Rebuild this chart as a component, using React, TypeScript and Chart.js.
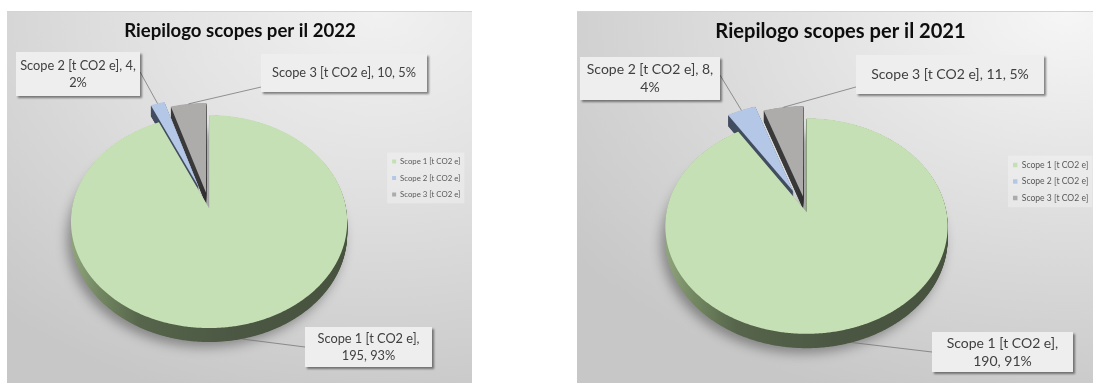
import React, { useEffect, useRef } from 'react';
import { Chart, registerables } from 'chart.js';

Chart.register(...registerables);

// ---------- data ----------
const categories = ['Scope 1 [t CO2 e]', 'Scope 2 [t CO2 e]', 'Scope 3 [t CO2 e]'];
const values2022 = [195, 4, 10];
const values2021 = [190, 8, 11];
const title2022 = 'Riepilogo scopes per il 2022';
const title2021 = 'Riepilogo scopes per il 2021';

// ---------- styles ----------
const FONT = 'Lato, "Open Sans", sans-serif';
const topColors = ['#c5e0b4', '#b4c7e7', '#aeabab'];
const sideColors = ['', '#434d60', '#3b3b3b'];
const greenSideStops: [number, string][] = [
  [0, '#8fa47c'],
  [0.1, '#728761'],
  [0.25, '#56654b'],
  [0.6, '#4b5743'],
  [1, '#47523f'],
];

type Box = { x: number; y: number; w: number; h: number; side: 'left' | 'right'; fy: number; split: number };
type PanelCfg = {
  left: number; top: number; width: number; height: number; canvasWidth: number;
  title: string; values: number[];
  titleSize: number; titlePad: { top: number; bottom: number }; titleX: number;
  labelSize: number; lineH: number;
  legendSize: number; legendPad: number; legendBox: number;
  padding: { left: number; right: number; top: number; bottom: number };
  tilt: number; persp: number; depth: number; explode: number[];
  boxes: Box[]; bg: string;
};

const leftPanel: PanelCfg = {
  left: 7, top: 11, width: 465, height: 372, canvasWidth: 465,
  title: title2022, values: values2022,
  titleSize: 18.6, titlePad: { top: 8.8, bottom: 28.9 }, titleX: 233,
  labelSize: 12.8, lineH: 17,
  legendSize: 7.8, legendPad: 8.7, legendBox: 4,
  padding: { left: 27.7, right: 1.6, top: 0, bottom: 38 },
  tilt: 0.765, persp: 0.127, depth: 12.2, explode: [0, 0.22, 0.15],
  boxes: [
    { x: 298, y: 316, w: 127, h: 40, side: 'left', fy: 0.5, split: 1 },
    { x: 9, y: 41, w: 124, h: 44, side: 'right', fy: 0.45, split: 2 },
    { x: 254, y: 43, w: 166, h: 38, side: 'left', fy: 0.87, split: 3 },
  ],
  bg: 'radial-gradient(ellipse 120% 110% at 80% 0%, #f1f1f1 0%, #e2e2e2 40%, #c7c7c7 100%)',
};

const rightPanel: PanelCfg = {
  left: 577, top: 11, width: 516, height: 372, canvasWidth: 530,
  title: title2021, values: values2021,
  titleSize: 20.1, titlePad: { top: 8.9, bottom: 28 }, titleX: 263.5,
  labelSize: 14, lineH: 18,
  legendSize: 8.6, legendPad: 7.9, legendBox: 4.5,
  padding: { left: 30.9, right: 8.7, top: 0, bottom: 31 },
  tilt: 0.757, persp: 0.13, depth: 12.5, explode: [0, 0.22, 0.15],
  boxes: [
    { x: 355, y: 321, w: 141, h: 40, side: 'left', fy: 0.5, split: 1 },
    { x: 3, y: 46, w: 140, h: 43, side: 'right', fy: 0.42, split: 2 },
    { x: 279, y: 44, w: 188, h: 39, side: 'left', fy: 0.82, split: 3 },
  ],
  bg: 'radial-gradient(ellipse 120% 110% at 95% 0%, #f6f6f6 0%, #e3e3e3 40%, #c7c7c7 100%)',
};

// ---------- plugins ----------
function geometry(chart: any, cfg: PanelCfg) {
  const arcs = chart.getDatasetMeta(0).data as any[];
  if (!arcs.length) return null;
  const cx = arcs[0].x, cy = arcs[0].y, R = arcs[0].outerRadius;
  const proj = (u: number, v: number, z: number) => {
    const w = 1 / (1 - cfg.persp * v);
    return [cx + R * u * w, cy + R * cfg.tilt * v * w + z * w];
  };
  return { arcs, cx, cy, R, proj };
}

function makeTitlePlacer(cfg: PanelCfg) {
  return {
    id: 'titlePlacer',
    afterLayout(chart: any) {
      const tb = chart.titleBlock;
      if (!tb) return;
      const half = (tb.right - tb.left) / 2;
      tb.left = cfg.titleX - half;
      tb.right = cfg.titleX + half;
    },
  };
}

function makePie3d(cfg: PanelCfg) {
  return {
    id: 'pie3d',
    beforeDatasetsDraw(chart: any) {
      const g = geometry(chart, cfg);
      if (!g) return false;
      const { arcs, cx, R, proj } = g;
      const ctx: CanvasRenderingContext2D = chart.ctx;
      const shape = (i: number, z: number) => {
        const a = arcs[i];
        const mid = (a.startAngle + a.endAngle) / 2;
        const e = cfg.explode[i] || 0;
        const du = e * Math.cos(mid), dv = e * Math.sin(mid);
        const span = a.endAngle - a.startAngle;
        const n = Math.max(4, Math.ceil(span / (Math.PI / 360)));
        ctx.beginPath();
        const p0 = proj(du, dv, z);
        ctx.moveTo(p0[0], p0[1]);
        for (let k = 0; k <= n; k++) {
          const t = a.startAngle + (span * k) / n;
          const p = proj(du + Math.cos(t), dv + Math.sin(t), z);
          ctx.lineTo(p[0], p[1]);
        }
        ctx.closePath();
      };
      const grad = ctx.createLinearGradient(cx - R, 0, cx + R, 0);
      greenSideStops.forEach(([o, c]) => grad.addColorStop(o, c));
      ctx.save();
      const order = [1, 2, 0];
      for (const i of order) {
        if (!arcs[i] || arcs[i].endAngle - arcs[i].startAngle <= 0) continue;
        for (let z = cfg.depth; z >= 0.5; z -= 0.5) {
          ctx.save();
          if (i === 0 && z === cfg.depth) {
            ctx.shadowColor = 'rgba(0,0,0,0.35)';
            ctx.shadowBlur = 12;
            ctx.shadowOffsetX = -4;
            ctx.shadowOffsetY = 5;
          }
          shape(i, z);
          ctx.fillStyle = i === 0 ? grad : sideColors[i];
          ctx.fill();
          ctx.restore();
        }
      }
      for (const i of order) {
        if (!arcs[i]) continue;
        shape(i, 0);
        ctx.fillStyle = arcs[i].options.backgroundColor;
        ctx.fill();
      }
      ctx.restore();
      return false;
    },
  };
}

function makeCallouts(cfg: PanelCfg) {
  return {
    id: 'callouts',
    afterDraw(chart: any) {
      const g = geometry(chart, cfg);
      if (!g) return;
      const { arcs, proj } = g;
      const ctx: CanvasRenderingContext2D = chart.ctx;
      const data = chart.data.datasets[0].data as number[];
      const labels = chart.data.labels as string[];
      const total = data.reduce((s, v) => s + v, 0);
      ctx.save();
      arcs.forEach((a: any, i: number) => {
        const b = cfg.boxes[i];
        if (!b) return;
        const mid = (a.startAngle + a.endAngle) / 2;
        const e = cfg.explode[i] || 0;
        const u = (1 + e) * Math.cos(mid), v = (1 + e) * Math.sin(mid);
        const z = Math.sin(mid) > 0.3 ? cfg.depth : 0;
        const anchor = proj(u, v, z);
        const ax = b.side === 'left' ? b.x : b.x + b.w;
        const ay = b.y + b.h * b.fy;
        ctx.beginPath();
        ctx.moveTo(ax, ay);
        ctx.lineTo(anchor[0], anchor[1]);
        ctx.strokeStyle = 'rgba(110,110,110,0.9)';
        ctx.lineWidth = 0.8;
        ctx.stroke();
        // box
        ctx.save();
        ctx.shadowColor = 'rgba(0,0,0,0.45)';
        ctx.shadowBlur = 2;
        ctx.shadowOffsetX = 1.5;
        ctx.shadowOffsetY = 1.5;
        ctx.fillStyle = 'rgba(236,236,236,1)';
        ctx.fillRect(b.x, b.y, b.w, b.h);
        ctx.restore();
        ctx.fillStyle = 'rgba(255,255,255,0.12)';
        ctx.fillRect(b.x, b.y, b.w, b.h);
        // text
        const pct = Math.round((data[i] / total) * 100) + '%';
        const parts = [labels[i], String(data[i]), pct];
        const lines: string[] = [];
        lines.push(parts.slice(0, b.split).join(', ') + (b.split < parts.length ? ',' : ''));
        if (b.split < parts.length) lines.push(parts.slice(b.split).join(', '));
        ctx.font = `${cfg.labelSize}px ${FONT}`;
        ctx.fillStyle = '#404040';
        ctx.textAlign = 'center';
        ctx.textBaseline = 'middle';
        const cxT = b.x + b.w / 2;
        const cyT = b.y + b.h / 2;
        lines.forEach((ln, k) => {
          ctx.fillText(ln, cxT, cyT + (k - (lines.length - 1) / 2) * cfg.lineH);
        });
      });
      ctx.restore();
    },
  };
}

const legendBg = {
  id: 'legendBg',
  beforeDraw(chart: any) {
    const lg = chart.legend;
    if (!lg || !lg.legendHitBoxes || !lg.legendHitBoxes.length) return;
    let l = Infinity, r = -Infinity, t = Infinity, bt = -Infinity;
    for (const h of lg.legendHitBoxes) {
      l = Math.min(l, h.left); r = Math.max(r, h.left + h.width);
      t = Math.min(t, h.top); bt = Math.max(bt, h.top + h.height);
    }
    const ctx: CanvasRenderingContext2D = chart.ctx;
    ctx.save();
    ctx.fillStyle = 'rgba(255,255,255,0.28)';
    ctx.fillRect(l - 5, t - 5, r - l + 9, bt - t + 10);
    ctx.restore();
  },
};

function PiePanel({ cfg }: { cfg: PanelCfg }) {
  const ref = useRef<HTMLCanvasElement>(null);
  useEffect(() => {
    const chart = new Chart(ref.current!, {
      type: 'pie',
      data: {
        labels: categories,
        datasets: [{ data: cfg.values, backgroundColor: topColors, borderWidth: 0 }],
      },
      options: {
        animation: false,
        responsive: false,
        events: [],
        layout: { padding: cfg.padding },
        plugins: {
          title: {
            display: true,
            text: cfg.title,
            color: '#0d0d0d',
            font: { family: FONT, size: cfg.titleSize, weight: 'bold' },
            padding: cfg.titlePad,
          },
          legend: {
            position: 'right',
            align: 'center',
            fullSize: true,
            labels: {
              boxWidth: cfg.legendBox,
              boxHeight: cfg.legendBox,
              padding: cfg.legendPad,
              color: '#595959',
              font: { family: FONT, size: cfg.legendSize },
            },
          },
          tooltip: { enabled: false },
        },
      } as any,
      plugins: [makeTitlePlacer(cfg), legendBg, makePie3d(cfg), makeCallouts(cfg)],
    });
    return () => chart.destroy();
  }, [cfg]);
  return (
    <div
      style={{
        position: 'absolute',
        left: cfg.left,
        top: cfg.top,
        width: cfg.width,
        height: cfg.height,
        background: cfg.bg,
        borderTop: '1px solid #d4d4d4',
        boxSizing: 'border-box',
        overflow: 'hidden',
      }}
    >
      <canvas
        ref={ref}
        width={cfg.canvasWidth}
        height={cfg.height}
        style={{ display: 'block', position: 'absolute', left: 0, top: -1 }}
      />
    </div>
  );
}

export default function App() {
  useEffect(() => {
    document.body.style.overflow = 'hidden';
  }, []);
  return (
    <div>
      <PiePanel cfg={leftPanel} />
      <PiePanel cfg={rightPanel} />
    </div>
  );
}
